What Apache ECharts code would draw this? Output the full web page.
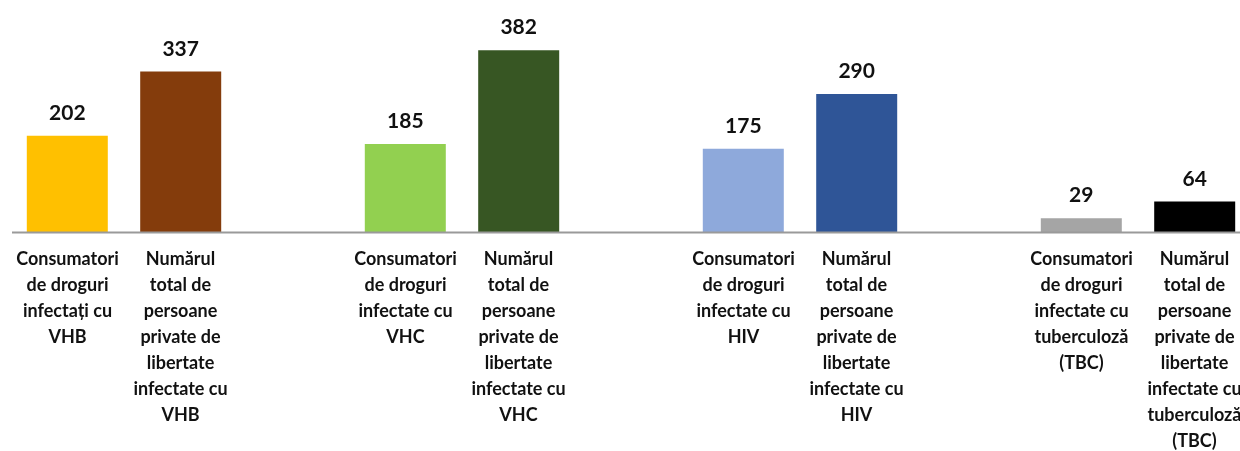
<!DOCTYPE html>
<html>
<head>
<meta charset="utf-8">
<script src="https://cdn.jsdelivr.net/npm/echarts@6/dist/echarts.min.js"></script>
<style>
  html, body { margin: 0; padding: 0; background: #ffffff; }
  #chart { width: 1240px; height: 451px; }
</style>
</head>
<body>
<div id="chart"></div>
<script>
// Groups of indicators (one per infection type)
const categories = ['VHB', 'VHC', 'HIV', 'TBC'];

// Drug users infected, per group
const drugUsers = [202, 185, 175, 29];
// Total persons deprived of liberty infected, per group
const prisoners = [337, 382, 290, 64];

// Bar colours per group
const drugColors = ['#FFC000', '#92D050', '#8EA9DB', '#A5A5A5'];
const prisonColors = ['#843C0C', '#375623', '#2F5597', '#000000'];

// Text under each pair of bars (left column / right column)
const drugLabels = [
  ['Consumatori', 'de droguri', 'infectați cu', 'VHB'],
  ['Consumatori', 'de droguri', 'infectate cu', 'VHC'],
  ['Consumatori', 'de droguri', 'infectate cu', 'HIV'],
  ['Consumatori', 'de droguri', 'infectate cu', 'tuberculoză', '(TBC)']
];
const prisonLabels = [
  ['Numărul', 'total de', 'persoane', 'private de', 'libertate', 'infectate cu', 'VHB'],
  ['Numărul', 'total de', 'persoane', 'private de', 'libertate', 'infectate cu', 'VHC'],
  ['Numărul', 'total de', 'persoane', 'private de', 'libertate', 'infectate cu', 'HIV'],
  ['Numărul', 'total de', 'persoane', 'private de', 'libertate', 'infectate cu', 'tuberculoză', '(TBC)']
];

const FONT = 'Lato, "Open Sans", sans-serif';

// Build a two-column rich label for one group
function twoColumn(idx) {
  const a = drugLabels[idx], b = prisonLabels[idx];
  const n = Math.max(a.length, b.length);
  const lines = [];
  for (let i = 0; i < n; i++) {
    lines.push('{l|' + (a[i] || ' ') + '}{r|' + (b[i] || ' ') + '}');
  }
  return lines.join('\n');
}

const chart = echarts.init(document.getElementById('chart'), null, { renderer: 'canvas' });

const colW = 113;
chart.setOption({
  animation: false,
  backgroundColor: '#ffffff',
  grid: {
    left: -45,
    width: 1352,
    top: 41.6,
    bottom: 219,
    outerBoundsMode: 'none',
    containLabel: false
  },
  xAxis: {
    type: 'category',
    data: categories,
    axisLine: { show: false },
    axisTick: { show: false },
    axisLabel: {
      interval: 0,
      margin: 14,
      hideOverlap: false,
      formatter: function (val, idx) { return twoColumn(idx); },
      rich: {
        l: { width: colW, align: 'center', fontFamily: FONT, fontWeight: 'bold', fontSize: 18, lineHeight: 26, color: '#111111' },
        r: { width: colW, align: 'center', fontFamily: FONT, fontWeight: 'bold', fontSize: 18, lineHeight: 26, color: '#111111' }
      }
    }
  },
  yAxis: {
    type: 'value',
    min: 0,
    max: 400,
    show: false,
    splitLine: { show: false }
  },
  series: [
    {
      name: 'Consumatori de droguri',
      type: 'bar',
      barWidth: 81,
      barGap: '40%',
      data: drugUsers.map((v, i) => ({ value: v, itemStyle: { color: drugColors[i] } })),
      label: {
        show: true, position: 'top', distance: 12,
        fontFamily: FONT, fontWeight: 'bold', fontSize: 21, color: '#111111'
      }
    },
    {
      name: 'Persoane private de libertate',
      type: 'bar',
      barWidth: 81,
      barGap: '40%',
      data: prisoners.map((v, i) => ({ value: v, itemStyle: { color: prisonColors[i] } })),
      label: {
        show: true, position: 'top', distance: 12,
        fontFamily: FONT, fontWeight: 'bold', fontSize: 21, color: '#111111'
      }
    }
  ]
});

// Baseline drawn along the zero of the value axis
const y0 = chart.convertToPixel({ yAxisIndex: 0 }, 0);
chart.setOption({
  graphic: [{
    type: 'line',
    z: 10,
    shape: { x1: 12, y1: y0 + 0.5, x2: 1240, y2: y0 + 0.5 },
    style: { stroke: '#9a9a9a', lineWidth: 2 }
  }]
});
</script>
</body>
</html>
